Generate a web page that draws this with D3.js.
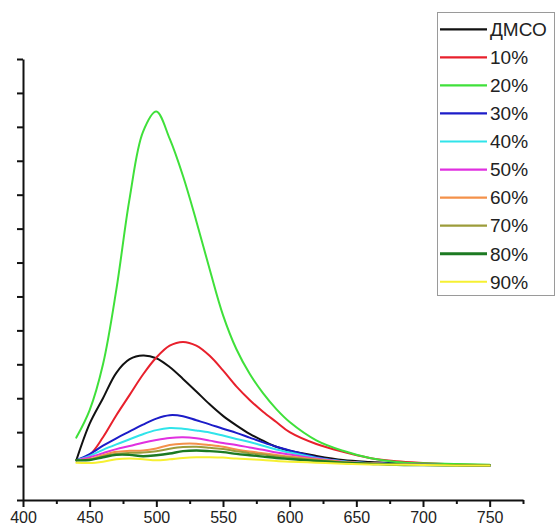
<!DOCTYPE html>
<html>
<head>
<meta charset="utf-8">
<script src="https://cdn.jsdelivr.net/npm/d3@7/dist/d3.min.js"></script>
<style>
  body { margin: 0; background: #fff; }
  svg text { font-family: "Liberation Sans", Arial, sans-serif; fill: #222; }
</style>
</head>
<body>
<div id="canvas"></div>
<script>
// wavelength grid, nm
var wavelengths = [440,450,460,470,480,490,500,510,520,530,540,550,560,570,580,590,600,620,640,660,680,700,725,750];

// series (intensity, a.u.)
var dmso = [17,125,200,275,315,326,318,292,257,220,182,148,120,95,75,57,45,30,18,12,8,5,3,2];
var p10  = [17,33,85,150,210,270,320,355,366,355,325,282,235,195,160,130,100,65,42,24,14,9,5,3];
var p20  = [84,165,300,520,790,985,1045,965,855,722,580,445,345,272,215,168,130,76,45,24,12,8,6,4];
var p30  = [17,35,60,82,102,122,140,150,147,135,123,110,98,84,70,57,46,26,14,9,6,4,3,2];
var p40  = [17,30,48,64,79,94,106,112,110,105,99,90,80,71,60,49,40,24,14,9,6,4,3,2];
var p50  = [17,26,38,50,59,69,77,83,85,82,75,68,62,55,48,40,34,22,13,8,5,4,3,2];
var p60  = [17,21,32,42,45,46,52,62,66,66,62,57,49,43,38,33,28,20,12,8,5,4,3,2];
var p70  = [17,19,28,36,39,40,44,51,56,57,54,50,44,38,34,29,25,18,11,7,5,3,2,2];
var p80  = [17,18,26,33,33,29,32,37,44,46,44,41,36,32,28,24,21,15,10,7,4,3,2,2];
var p90  = [10,9,13,20,22,20,17,20,24,26,26,25,22,20,18,15,13,10,7,5,4,3,2,2];

var seriesNames = ['ДМСО','10%','20%','30%','40%','50%','60%','70%','80%','90%'];
var seriesValues = [dmso,p10,p20,p30,p40,p50,p60,p70,p80,p90];
var seriesColors = ['#111111','#e8202c','#3fe03a','#1c1cc8','#30e4ea','#e030e0','#f4914a','#9c9c3a','#1c7a22','#f6f032'];

var xMajor = [400,450,500,550,600,650,700,750];
var xMinor = [425,475,525,575,625,675,725,775];
var yTicks = d3.range(-100, 1201, 100);

var W = 558, H = 529;

var svg = d3.select('#canvas')
    .append('svg')
    .attr('width', W)
    .attr('height', H);

var x = d3.scaleLinear().domain([400,775]).range([23,523]);
var y = d3.scaleLinear().domain([-100,1200]).range([500,59]);

// axes
var xAxis = svg.append('g')
    .attr('transform','translate(0,' + y(-100) + ')')
    .call(d3.axisBottom(x).tickValues(xMajor).tickSize(7).tickSizeOuter(0).tickPadding(5).tickFormat(d3.format('d')));
xAxis.select('.domain').attr('stroke','#111').attr('stroke-width',2);
xAxis.selectAll('.tick line').attr('stroke','#111').attr('stroke-width',2);
xAxis.selectAll('.tick text').style('font-size','16px').attr('fill','#222');

var xMinorAxis = svg.append('g')
    .attr('transform','translate(0,' + y(-100) + ')')
    .call(d3.axisBottom(x).tickValues(xMinor).tickSize(4).tickFormat(''));
xMinorAxis.select('.domain').remove();
xMinorAxis.selectAll('.tick line').attr('stroke','#111').attr('stroke-width',2);

var yAxis = svg.append('g')
    .attr('transform','translate(' + x(400) + ',0)')
    .call(d3.axisLeft(y).tickValues(yTicks).tickSize(6).tickSizeOuter(0).tickFormat(''));
yAxis.select('.domain').attr('stroke','#111').attr('stroke-width',2);
yAxis.selectAll('.tick line').attr('stroke','#111').attr('stroke-width',2);

// curves
var line = d3.line()
    .x(function(d){ return x(d[0]); })
    .y(function(d){ return y(d[1]); })
    .curve(d3.curveCatmullRom.alpha(0.5));

seriesValues.forEach(function(vals, i){
    var pts = wavelengths.map(function(w, j){ return [w, vals[j]]; });
    svg.append('path')
        .attr('d', line(pts))
        .attr('fill','none')
        .attr('stroke', seriesColors[i])
        .attr('stroke-width', i === 8 ? 2.4 : 2)
        .attr('stroke-linejoin','round')
        .attr('stroke-linecap','round');
});

// legend
var lg = svg.append('g').attr('class','legend');
lg.append('rect')
    .attr('x',437.5).attr('y',12.5)
    .attr('width',117).attr('height',283)
    .attr('fill','#fff')
    .attr('stroke','#9a9a9a')
    .attr('stroke-width',1);

seriesNames.forEach(function(name, i){
    var ly = 29.3 + i * 28.05;
    lg.append('line')
        .attr('x1',440).attr('x2',487)
        .attr('y1',ly).attr('y2',ly)
        .attr('stroke',seriesColors[i])
        .attr('stroke-width', i === 8 ? 3 : 2.2);
    lg.append('text')
        .attr('x',490).attr('y',ly)
        .attr('dy','0.36em')
        .style('font-size','19px')
        .text(name);
});
</script>
</body>
</html>
